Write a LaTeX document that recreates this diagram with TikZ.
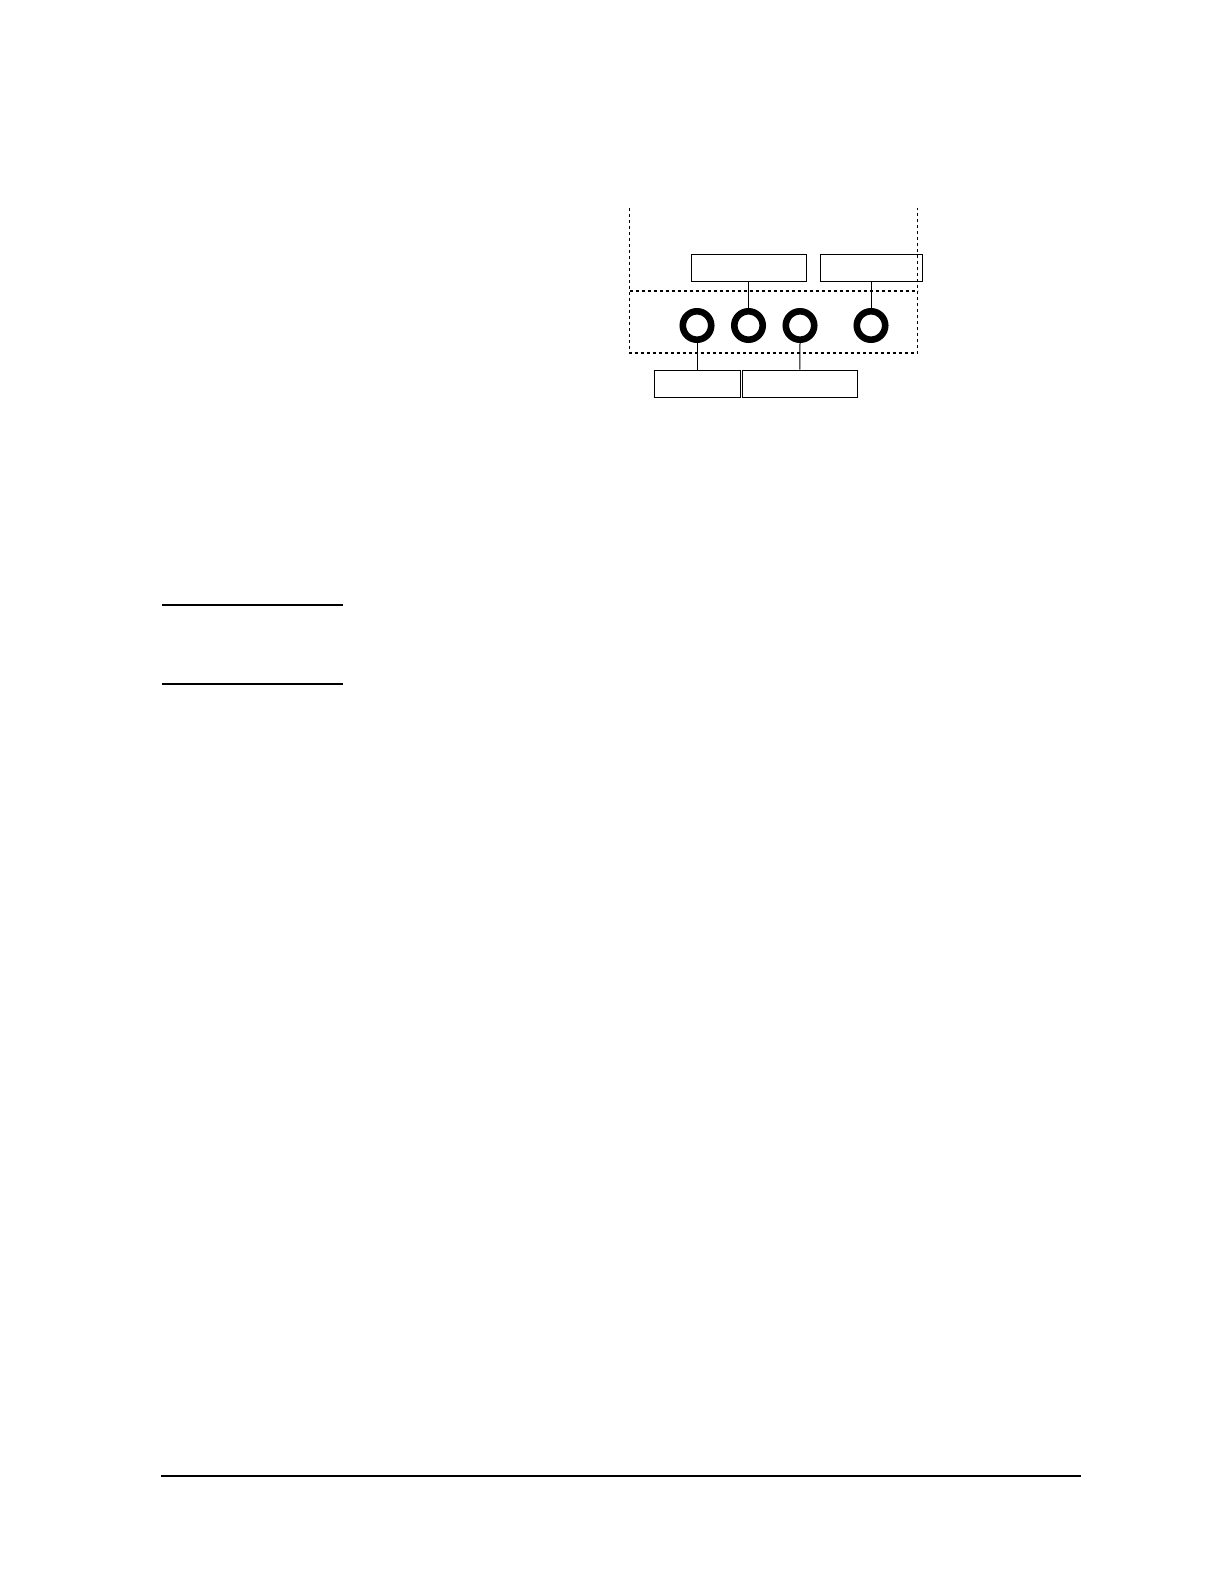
\documentclass[tikz,border=0pt]{standalone}
\begin{document}
\begin{tikzpicture}[x=0.5pt,y=-0.5pt,
  labelbox/.style={draw,line width=0.5pt,rectangle,inner sep=0pt,minimum height=13.5pt},
  ring/.style={draw,circle,line width=3.3pt,minimum size=14.2pt,inner sep=0pt},
  conn/.style={line width=0.5pt},
  zone/.style={line width=0.6pt,dash pattern=on 1.6pt off 1.4pt},
  rule/.style={line width=1pt}]
\useasboundingbox (0,0) rectangle (1224,1584);
% dashed zone
\coordinate (tl) at (629.5,208);
\coordinate (tr) at (917.5,208);
\coordinate (ml) at (629.5,291);
\coordinate (mr) at (917.5,291);
\coordinate (bl) at (629.5,353);
\coordinate (br) at (917.5,353);
\draw[zone] (tl) -- (ml) -- (bl) -- (br) -- (mr) -- (tr);
\draw[zone] (ml) -- (mr);
% label boxes
\node[labelbox,minimum width=57.5pt] (A) at (748.5,267.5) {};
\node[labelbox,minimum width=51pt] (B) at (871,267.5) {};
\node[labelbox,minimum width=43pt] (C) at (697,383.5) {};
\node[labelbox,minimum width=57.25pt] (D) at (799.75,383.5) {};
% rings
\node[ring] (r1) at (697,325.5) {};
\node[ring] (r2) at (748.5,325.5) {};
\node[ring] (r3) at (800,325.5) {};
\node[ring] (r4) at (871,325.5) {};
% connectors
\draw[conn] (A.south) -- (r2.north);
\draw[conn] (B.south) -- (r4.north);
\draw[conn] (r1.south) -- (C.north);
\draw[conn] (r3.south) -- (D.north);
% rules
\coordinate (l1a) at (162,605); \coordinate (l1b) at (343,605);
\coordinate (l2a) at (162,684); \coordinate (l2b) at (343,684);
\coordinate (l3a) at (161,1476); \coordinate (l3b) at (1081,1476);
\draw[rule] (l1a) -- (l1b);
\draw[rule] (l2a) -- (l2b);
\draw[rule,line width=0.9pt] (l3a) -- (l3b);
\end{tikzpicture}
\end{document}
